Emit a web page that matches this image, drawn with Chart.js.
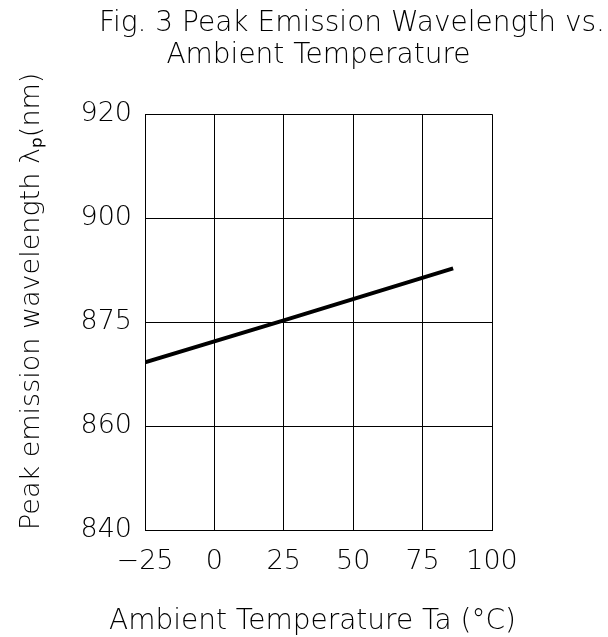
<!DOCTYPE html>
<html>
<head>
<meta charset="utf-8">
<script src="https://cdn.jsdelivr.net/npm/chart.js@4.4.1/dist/chart.umd.min.js"></script>
<style>
  html, body { margin: 0; padding: 0; background: #fff; }
  #chart { display: block; }
</style>
</head>
<body>
<canvas id="chart" width="608" height="637"></canvas>
<script>
// values
const temperatures = [-25, 25, 86];           // Ta (°C)
const peakWavelength = [869.2, 875.4, 887.9]; // λp (nm)

// the y axis of the original is drawn with evenly spaced, uneven labels
const yTickValues = [840, 860, 875, 900, 920];
const xTicks = [-25, 0, 25, 50, 75, 100];

const FONT = "'DejaVu Sans', sans-serif";

// place a wavelength on the evenly spaced grid of the y axis
function toGrid(w) {
  for (let i = 0; i < yTickValues.length - 1; i++) {
    const a = yTickValues[i], b = yTickValues[i + 1];
    if (w <= b || i === yTickValues.length - 2) {
      return i + (w - a) / (b - a);
    }
  }
}

const points = temperatures.map((t, i) => ({ x: t, y: toGrid(peakWavelength[i]) }));

// the built-in x title gets squeezed to the plot width, so draw it here
const xTitlePlugin = {
  id: "xTitle",
  afterDraw(chart, args, opts) {
    const { ctx, chartArea } = chart;
    ctx.save();
    ctx.font = `200 ${opts.size}px ${FONT}`;
    ctx.fillStyle = "#000";
    ctx.textAlign = "center";
    ctx.textBaseline = "alphabetic";
    ctx.fillText(opts.text, (chartArea.left + chartArea.right) / 2 + opts.shift, chart.height - opts.bottom);
    ctx.restore();
  },
};

Chart.defaults.font.family = FONT;
Chart.defaults.font.weight = "200";
Chart.defaults.color = "#000";

const ctx = document.getElementById("chart").getContext("2d");
new Chart(ctx, {
  type: "line",
  data: {
    datasets: [
      {
        label: "Peak emission wavelength",
        data: points,
        yAxisID: "y",
        borderColor: "#000",
        borderWidth: 4,
        borderCapStyle: "butt",
        pointRadius: 0,
        fill: false,
        tension: 0,
      },
    ],
  },
  plugins: [xTitlePlugin],
  options: {
    responsive: false,
    animation: false,
    devicePixelRatio: 1,
    layout: { padding: { left: 0, right: 3, top: 0, bottom: 0 } },
    plugins: {
      legend: { display: false },
      tooltip: { enabled: false },
      title: {
        display: true,
        text: "Fig. 3 Peak Emission Wavelength vs.",
        align: "end",
        color: "#000",
        font: { size: 28, weight: "200" },
        padding: { top: 7, bottom: 0 },
      },
      subtitle: {
        display: true,
        fullSize: false,
        text: "Ambient Temperature",
        color: "#000",
        font: { size: 28, weight: "200" },
        padding: { top: -2, bottom: 42 },
      },
      xTitle: {
        text: "Ambient Temperature Ta (°C)",
        size: 28,
        shift: -6,
        bottom: 8,
      },
    },
    scales: {
      x: {
        type: "linear",
        min: -25,
        max: 100,
        afterBuildTicks: (scale) => {
          scale.ticks = xTicks.map((v) => ({ value: v }));
        },
        afterFit: (scale) => { scale.height = 107; },
        grid: { color: "#000", lineWidth: 1, drawTicks: false },
        border: { color: "#000", width: 1 },
        ticks: {
          padding: 16,
          maxRotation: 0,
          font: { size: 27 },
          callback: (v) => (v < 0 ? "\u2212" + Math.abs(v) : String(v)),
        },
        title: { display: false },
      },
      y: {
        type: "linear",
        position: "left",
        min: 0,
        max: yTickValues.length - 1,
        afterFit: (scale) => { scale.width = 145; },
        grid: { color: "#000", lineWidth: 1, drawTicks: false },
        border: { color: "#000", width: 1 },
        ticks: {
          stepSize: 1,
          padding: 13,
          font: { size: 27 },
          callback: (v) => yTickValues[v],
        },
        title: {
          display: true,
          text: "Peak emission wavelength λₚ(nm)",
          align: "start",
          font: { size: 27 },
          padding: { top: 16, bottom: 0 },
        },
      },
      yRight: {
        type: "linear",
        position: "right",
        display: true,
        afterFit: (scale) => { scale.width = 113; },
        grid: { display: false, drawTicks: false },
        border: { display: false },
        ticks: { display: false },
      },
    },
  },
});
</script>
</body>
</html>
